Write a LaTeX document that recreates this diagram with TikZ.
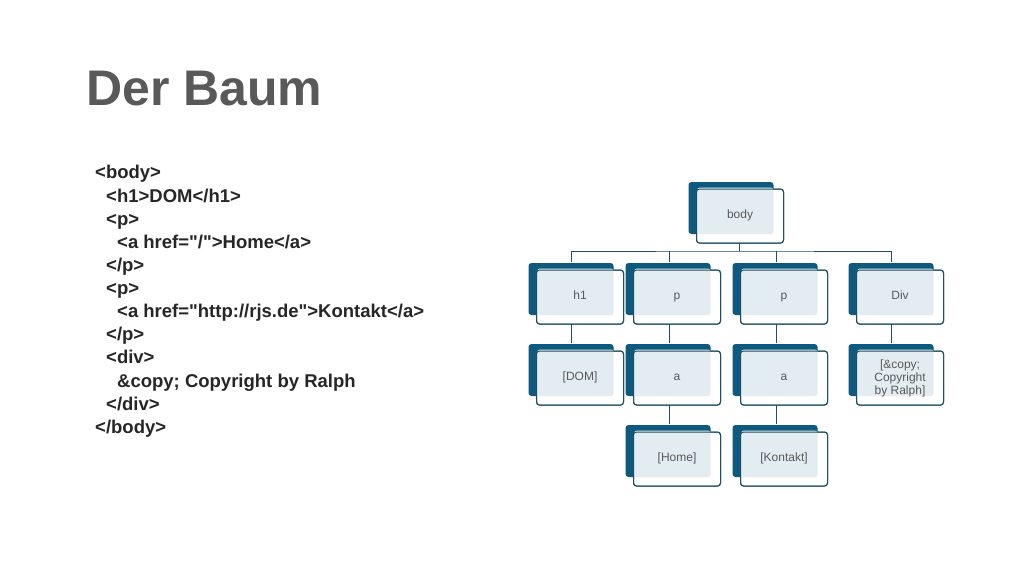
\documentclass[tikz,border=0pt]{standalone}
\usepackage{fontspec}
\setmainfont{Liberation Sans}
\definecolor{c0e5a7e}{RGB}{14,90,126}
\definecolor{c1f4e66}{RGB}{31,78,102}
\definecolor{ce3ecf0}{RGB}{227,236,240}
\definecolor{c595959}{RGB}{89,89,89}
\definecolor{c262626}{RGB}{38,38,38}
\tikzset{
  backbox/.style={fill=c0e5a7e, rounded corners=3pt, minimum width=85pt, minimum height=52pt, inner sep=0pt},
  frontbox/.style={draw=c1f4e66, line width=1pt, fill=white, rounded corners=3pt, minimum width=87pt, minimum height=54pt, inner sep=0pt, text=c595959, font=\fontsize{12}{13}\selectfont, align=center},
  conn/.style={draw=c1f4e66, line width=0.9pt},
  codeline/.style={anchor=base west, text=c262626, font=\fontsize{18.5}{20}\selectfont\bfseries, inner sep=0pt}
}
\newcommand{\treebox}[4]{%
  \node[backbox] (#1b) at (#2-9,#3-8) {};
  \node[frontbox] (#1) at (#2,#3) {};
  \fill[ce3ecf0, rounded corners=3pt] ([shift={(1,-1)}]#1.north west) rectangle (#1b.south east);
  \node[frontbox, fill=none] at (#2,#3) {\strut#4};
}
\newcommand{\qq}{\textquotedbl}
\begin{document}
\begin{tikzpicture}[x=1pt, y=-1pt]
\useasboundingbox (0,0) rectangle (1024,576);
\fill[white] (0,0) rectangle (1024,576);
% title
\node[anchor=west, text=c595959, font=\fontsize{50}{54}\selectfont\bfseries, inner sep=0pt] (title) at (86,89) {Der Baum};
% code
\node[codeline] (l1) at (95,178) {<body>};
\node[codeline] (l2) at (106,202) {<h1>DOM</h1>};
\node[codeline] (l3) at (106,225) {<p>};
\node[codeline] (l4) at (117,248) {<a href=\qq/\qq>Home</a>};
\node[codeline] (l5) at (106,271) {</p>};
\node[codeline] (l6) at (106,294) {<p>};
\node[codeline] (l7) at (117,317) {<a href=\qq http://rjs.de\qq>Kontakt</a>};
\node[codeline] (l8) at (106,340) {</p>};
\node[codeline] (l9) at (106,363) {<div>};
\node[codeline] (l10) at (117,387) {\&copy; Copyright by Ralph};
\node[codeline] (l11) at (106,410) {</div>};
\node[codeline] (l12) at (95,433) {</body>};
% connectors
\coordinate (bus) at (739,251);
\draw[conn] (739,242) -- (bus);
\draw[conn] (571,262) |- (bus) -| (891,262);
\draw[conn] (669,262) -- (669,251);
\draw[conn] (776,262) -- (776,251);
\draw[conn] (571,324) -- (571,343);
\draw[conn] (669,324) -- (669,343);
\draw[conn] (776,324) -- (776,343);
\draw[conn] (891,324) -- (891,343);
\draw[conn] (669,405) -- (669,424);
\draw[conn] (776,405) -- (776,424);
% boxes
\treebox{body}{740}{216}{body}
\treebox{hone}{580}{297}{h1}
\treebox{pone}{677}{297}{p}
\treebox{ptwo}{784}{297}{p}
\treebox{div}{900}{297}{Div}
\treebox{dom}{580}{378}{[DOM]}
\treebox{aone}{677}{378}{a}
\treebox{atwo}{784}{378}{a}
\treebox{copy}{900}{378}{[\&copy;\\Copyright\\by Ralph]}
\treebox{home}{677}{459}{[Home]}
\treebox{kontakt}{784}{459}{[Kontakt]}
\end{tikzpicture}
\end{document}
